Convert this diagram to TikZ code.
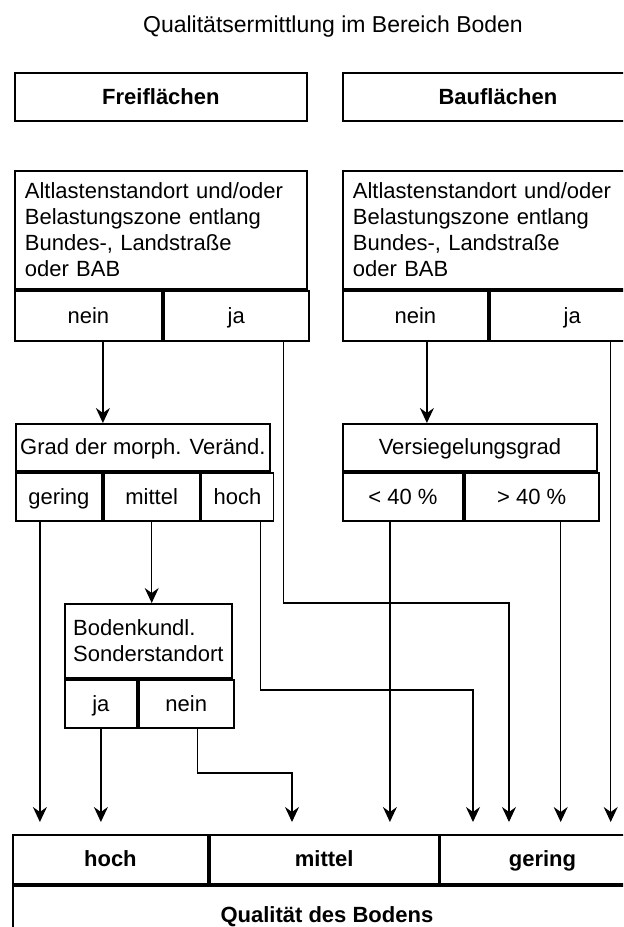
\documentclass[tikz,border=0pt]{standalone}
\usepackage{fontspec}
\setmainfont{Liberation Sans}
\usetikzlibrary{arrows.meta}

\begin{document}
\begin{tikzpicture}[x=0.5pt, y=-0.5pt,
	every node/.style={inner sep=0pt, font=\fontsize{11}{13}\selectfont},
	box/.style={draw, line width=0.9pt, anchor=north west, minimum height=24pt},
	cell/.style={box, text height=9pt, text depth=1.5pt},
	head/.style={cell, font=\fontsize{11}{13}\selectfont\bfseries},
	textbox/.style={box, align=left, inner xsep=5pt},
	conn/.style={line width=0.6pt},
	arr/.style={conn, -{Stealth[length=7.5pt, width=7pt, inset=2.5pt]}},
	arrq/.style={arr, shorten >=6pt}
	]
	\useasboundingbox (0,0) rectangle (623,927);
	\clip (0,0) rectangle (623,927);

	\node[font=\fontsize{11.5}{13}\selectfont] (title) at (333,27) {Qualitätsermittlung im Bereich Boden};

	\node[head, minimum width=146pt] (frei) at (14,72) {Freiflächen};
	\node[head, minimum width=155pt] (bau) at (342,72) {Bauflächen};

	\node[textbox, text width=136pt, minimum height=59pt] (alt) at (14,170)
		{Altlastenstandort und/oder\\Belastungszone entlang\\Bundes-, Landstraße\\oder BAB};
	\node[cell, minimum width=73.5pt, minimum height=25pt] (lnein) at (alt.south west) {nein};
	\node[cell, minimum width=72.5pt, minimum height=25pt] (lja) at (lnein.north east) {ja};

	\node[textbox, text width=145pt, minimum height=59pt] (ralt) at (342,170)
		{Altlastenstandort und/oder\\Belastungszone entlang\\Bundes-, Landstraße\\oder BAB};
	\node[cell, minimum width=72.5pt, minimum height=25pt] (rnein) at (ralt.south west) {nein};
	\node[cell, minimum width=82.5pt, minimum height=25pt] (rja) at (rnein.north east) {ja};

	\node[cell, minimum width=127pt, minimum height=23.5pt] (grad) at (15,423) {Grad der morph. Veränd.};
	\node[cell, minimum width=43pt] (ggering) at (grad.south west) {gering};
	\node[cell, minimum width=48pt] (gmittel) at (ggering.north east) {mittel};
	\node[cell, minimum width=36pt] (ghoch) at (gmittel.north east) {hoch};

	\node[cell, minimum width=127pt, minimum height=23.5pt] (vers) at (342,423) {Versiegelungsgrad};
	\node[cell, minimum width=60pt] (vlt) at (vers.south west) {< 40 \%};
	\node[cell, minimum width=67pt] (vgt) at (vlt.north east) {> 40 \%};

	\node[box, align=left, minimum width=83.5pt, minimum height=37pt] (bod) at (64,603)
		{Bodenkundl.\\Sonderstandort};
	\node[cell, minimum width=36pt] (bja) at (bod.south west) {ja};
	\node[cell, minimum width=47.5pt] (bnein) at (bja.north east) {nein};

	\node[head, minimum width=97.5pt, minimum height=24.5pt] (qhoch) at (12,834) {hoch};
	\node[head, minimum width=114.5pt, minimum height=24.5pt] (qmittel) at (qhoch.north east) {mittel};
	\node[head, minimum width=102pt, minimum height=24.5pt] (qgering) at (qmittel.north east) {gering};
	\node[head, minimum width=314pt, minimum height=29pt] (qual) at (qhoch.south west) {Qualität des Bodens};

	\coordinate (a1) at ([xshift=7.25pt]lnein.south);
	\coordinate (a2) at ([xshift=23.75pt]lja.south);
	\coordinate (a3) at ([xshift=5.75pt]rnein.south);
	\coordinate (a4) at ([xshift=19.25pt]rja.south);
	\coordinate (b1) at ([xshift=-9.5pt]ggering.south);
	\coordinate (b3) at ([xshift=11.5pt]ghoch.south);
	\coordinate (b4) at ([xshift=-6.5pt]vlt.south);
	\coordinate (b5) at ([xshift=14.5pt]vgt.south);
	\coordinate (c2) at ([xshift=5.75pt]bnein.south);
	\coordinate (k1) at (509,603);
	\coordinate (k2) at (473,690);
	\coordinate (k3) at (292,773);

	\draw[arr] (a1) -- (a1 |- grad.north);
	\draw[arr] (a3) -- (a3 |- vers.north);
	\draw[arr] (gmittel.south) -- (gmittel.south |- bod.north);
	\draw[arrq] (a2) |- (k1) -- (k1 |- qgering.north);
	\draw[arrq] (a4) -- (a4 |- qgering.north);
	\draw[arrq] (b1) -- (b1 |- qhoch.north);
	\draw[arrq] (b3) |- (k2) -- (k2 |- qgering.north);
	\draw[arrq] (b4) -- (b4 |- qmittel.north);
	\draw[arrq] (b5) -- (b5 |- qgering.north);
	\draw[arrq] (bja.south) -- (bja.south |- qhoch.north);
	\draw[arrq] (c2) |- (k3) -- (k3 |- qmittel.north);
\end{tikzpicture}
\end{document}
